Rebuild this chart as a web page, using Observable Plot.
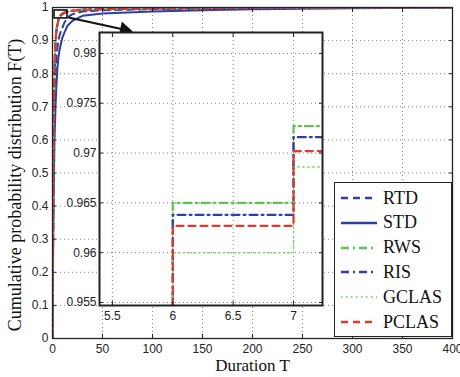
<!DOCTYPE html>
<html>
<head>
<meta charset="utf-8">
<script src="https://cdn.jsdelivr.net/npm/d3@7"></script>
<script src="https://cdn.jsdelivr.net/npm/@observablehq/plot@0.6"></script>
<style>
  body { margin: 0; background: white; }
  #wrap { position: relative; width: 460px; height: 377px; overflow: hidden; }
  #wrap > * { position: absolute; }
  #legend { left: 334px; top: 182px; width: 116px; height: 153px; background: white; border: 1.5px solid #222; }
  .item { position: absolute; left: 0; height: 24px; display: flex; align-items: center; font-family: "Liberation Serif", "Times New Roman", serif; font-size: 18px; color: #111; }
</style>
</head>
<body>
<div id="wrap"></div>
<script>
// ---- data ----
const durations = [0, 1, 2, 3, 4, 5, 6, 7, 8, 10, 12, 15, 20, 30, 50, 100, 150, 200, 300, 400];
const seriesNames = ["RTD", "STD", "RWS", "RIS", "GCLAS", "PCLAS"];
const seriesColors = ["#2e3f9e", "#2e3f9e", "#5ec34f", "#2e3f9e", "#86d672", "#e3382b"];
const seriesDash = ["7,5", null, "8,4,2,4", "8,4,2,4", "1.5,3.5", "7,5"];
const seriesWidth = [2, 2, 2.2, 2.2, 1.6, 2.2];
const RTD   = [0, 0.55, 0.72, 0.80, 0.85, 0.88, 0.900, 0.915, 0.925, 0.940, 0.955, 0.970, 0.980, 0.988, 0.992, 0.995, 0.997, 0.998, 0.999, 1];
const STD   = [0, 0.40, 0.60, 0.70, 0.77, 0.82, 0.850, 0.870, 0.885, 0.910, 0.925, 0.945, 0.960, 0.975, 0.982, 0.988, 0.992, 0.995, 0.998, 1];
const RWS   = [0, 0.62, 0.82, 0.90, 0.935, 0.952, 0.9650, 0.9727, 0.977, 0.982, 0.985, 0.988, 0.991, 0.994, 0.996, 0.998, 0.999, 0.999, 1, 1];
const RIS   = [0, 0.60, 0.81, 0.895, 0.93, 0.950, 0.9638, 0.9716, 0.976, 0.981, 0.984, 0.987, 0.990, 0.993, 0.995, 0.997, 0.998, 0.999, 1, 1];
const GCLAS = [0, 0.61, 0.81, 0.89, 0.93, 0.948, 0.9600, 0.9686, 0.974, 0.980, 0.983, 0.987, 0.990, 0.993, 0.995, 0.997, 0.998, 0.999, 1, 1];
const PCLAS = [0, 0.65, 0.83, 0.90, 0.932, 0.950, 0.9627, 0.9702, 0.975, 0.980, 0.984, 0.987, 0.990, 0.993, 0.995, 0.997, 0.998, 0.999, 1, 1];
const seriesValues = [RTD, STD, RWS, RIS, GCLAS, PCLAS];

const mainXTicks = [0, 50, 100, 150, 200, 250, 300, 350, 400];
const mainYTicks = [0, 0.1, 0.2, 0.3, 0.4, 0.5, 0.6, 0.7, 0.8, 0.9, 1];
const insetXTicks = [5.5, 6, 6.5, 7];
const insetYTicks = [0.955, 0.96, 0.965, 0.97, 0.975, 0.98];
const insetXDomain = [5.393, 7.24];
const insetYDomain = [0.9547, 0.9821];
const zoomBox = [{x1: 2, x2: 15, y1: 0.967, y2: 0.991}];
const zoomArrow = [{x1: 16, y1: 0.970, x2: 77, y2: 0.930}];

// ---- table ----
const rows = [];
seriesNames.forEach((s, i) => durations.forEach((t, j) => rows.push({T: t, F: seriesValues[i][j], s, i})));

const tickFont = "'Liberation Sans', Arial, sans-serif";
const serif = "'Liberation Serif', 'Times New Roman', serif";

function lineMarks(curve) {
  return seriesNames.map((s, i) => Plot.line(rows.filter(r => r.s === s), {
    x: "T", y: "F", curve,
    stroke: seriesColors[i], strokeWidth: seriesWidth[i],
    strokeDasharray: seriesDash[i] || undefined, clip: true
  }));
}

const wrap = document.getElementById("wrap");

const main = Plot.plot({
  width: 460, height: 377,
  marginLeft: 52, marginRight: 8, marginTop: 7, marginBottom: 39,
  style: {fontFamily: tickFont, fontSize: "12px", color: "#222", overflow: "visible"},
  x: {domain: [0, 400]},
  y: {domain: [0, 1]},
  marks: [
    Plot.gridX(mainXTicks.slice(1, -1), {stroke: "#666", strokeOpacity: 0.8, strokeDasharray: "1,3"}),
    Plot.gridY(mainYTicks.slice(1, -1), {stroke: "#666", strokeOpacity: 0.8, strokeDasharray: "1,3"}),
    ...lineMarks("linear"),
    Plot.frame({stroke: "#222", strokeWidth: 1.3}),
    Plot.axisX(mainXTicks, {anchor: "bottom", tickSize: 0, tickPadding: 6, fontSize: 12, label: null, tickFormat: d => String(d)}),
    Plot.axisX(mainXTicks, {anchor: "bottom", tickSize: -4, tickFormat: () => "", label: null}),
    Plot.axisX(mainXTicks, {anchor: "top", tickSize: -4, tickFormat: () => "", label: null}),
    Plot.axisY(mainYTicks, {anchor: "left", tickSize: 0, tickPadding: 4, fontSize: 12, label: null, tickFormat: d => String(+d.toFixed(1))}),
    Plot.axisY(mainYTicks, {anchor: "left", tickSize: -4, tickFormat: () => "", label: null}),
    Plot.axisY(mainYTicks, {anchor: "right", tickSize: -4, tickFormat: () => "", label: null}),
    Plot.rect(zoomBox, {x1: "x1", x2: "x2", y1: "y1", y2: "y2", fill: "none", stroke: "#111", strokeWidth: 1.6}),
    Plot.link(zoomArrow, {x1: "x1", y1: "y1", x2: "x2", y2: "y2", stroke: "#111", strokeWidth: 2}),
    Plot.dot(zoomArrow, {x: "x2", y: "y2", symbol: "triangle", r: 5.5, rotate: 102, dx: -5, dy: -1, fill: "#111", stroke: "none"}),
    Plot.text(["Duration T"], {text: d => d, frameAnchor: "bottom", dy: 27, lineAnchor: "middle", fontFamily: serif, fontSize: 17, fill: "#111"}),
    Plot.text(["Cumulative probability distribution F(T)"], {text: d => d, frameAnchor: "left", dx: -37, dy: 12, rotate: -90, lineAnchor: "middle", textAnchor: "middle", fontFamily: serif, fontSize: 18, fill: "#111"})
  ]
});
main.style.left = "0px"; main.style.top = "0px";
wrap.appendChild(main);

const inset = Plot.plot({
  width: 270, height: 310,
  marginLeft: 39, marginTop: 10, marginRight: 8, marginBottom: 27,
  style: {fontFamily: tickFont, fontSize: "12px", color: "#222", background: "transparent", overflow: "visible"},
  x: {domain: insetXDomain},
  y: {domain: insetYDomain},
  marks: [
    Plot.frame({fill: "white"}),
    Plot.gridX(insetXTicks, {stroke: "#666", strokeOpacity: 0.8, strokeDasharray: "1,3"}),
    Plot.gridY(insetYTicks, {stroke: "#666", strokeOpacity: 0.8, strokeDasharray: "1,3"}),
    ...lineMarks("step-after"),
    Plot.frame({stroke: "#222", strokeWidth: 2}),
    Plot.axisX(insetXTicks, {anchor: "bottom", tickSize: 0, tickPadding: 6, fontSize: 12, label: null, tickFormat: d => String(d)}),
    Plot.axisX(insetXTicks, {anchor: "bottom", tickSize: -4, tickFormat: () => "", label: null}),
    Plot.axisX(insetXTicks, {anchor: "top", tickSize: -4, tickFormat: () => "", label: null}),
    Plot.axisY(insetYTicks, {anchor: "left", tickSize: 0, tickPadding: 3, fontSize: 12, label: null, tickFormat: d => String(+d.toFixed(3))}),
    Plot.axisY(insetYTicks, {anchor: "left", tickSize: -4, tickFormat: () => "", label: null}),
    Plot.axisY(insetYTicks, {anchor: "right", tickSize: -4, tickFormat: () => "", label: null})
  ]
});
inset.style.left = "60px"; inset.style.top = "22px";
wrap.appendChild(inset);

// legend
const legend = document.createElement("div");
legend.id = "legend";
wrap.appendChild(legend);
seriesNames.forEach((s, i) => {
  const item = document.createElement("div");
  item.className = "item";
  item.style.top = (3 + i * 24.8) + "px";
  const svg = d3.create("svg").attr("width", 48).attr("height", 24).style("flex", "none");
  svg.append("line").attr("x1", 6).attr("x2", 42).attr("y1", 12).attr("y2", 12)
    .attr("stroke", seriesColors[i]).attr("stroke-width", seriesWidth[i] + 0.3)
    .attr("stroke-dasharray", seriesDash[i]);
  item.appendChild(svg.node());
  const label = document.createElement("span");
  label.textContent = s;
  item.appendChild(label);
  legend.appendChild(item);
});
</script>
</body>
</html>
